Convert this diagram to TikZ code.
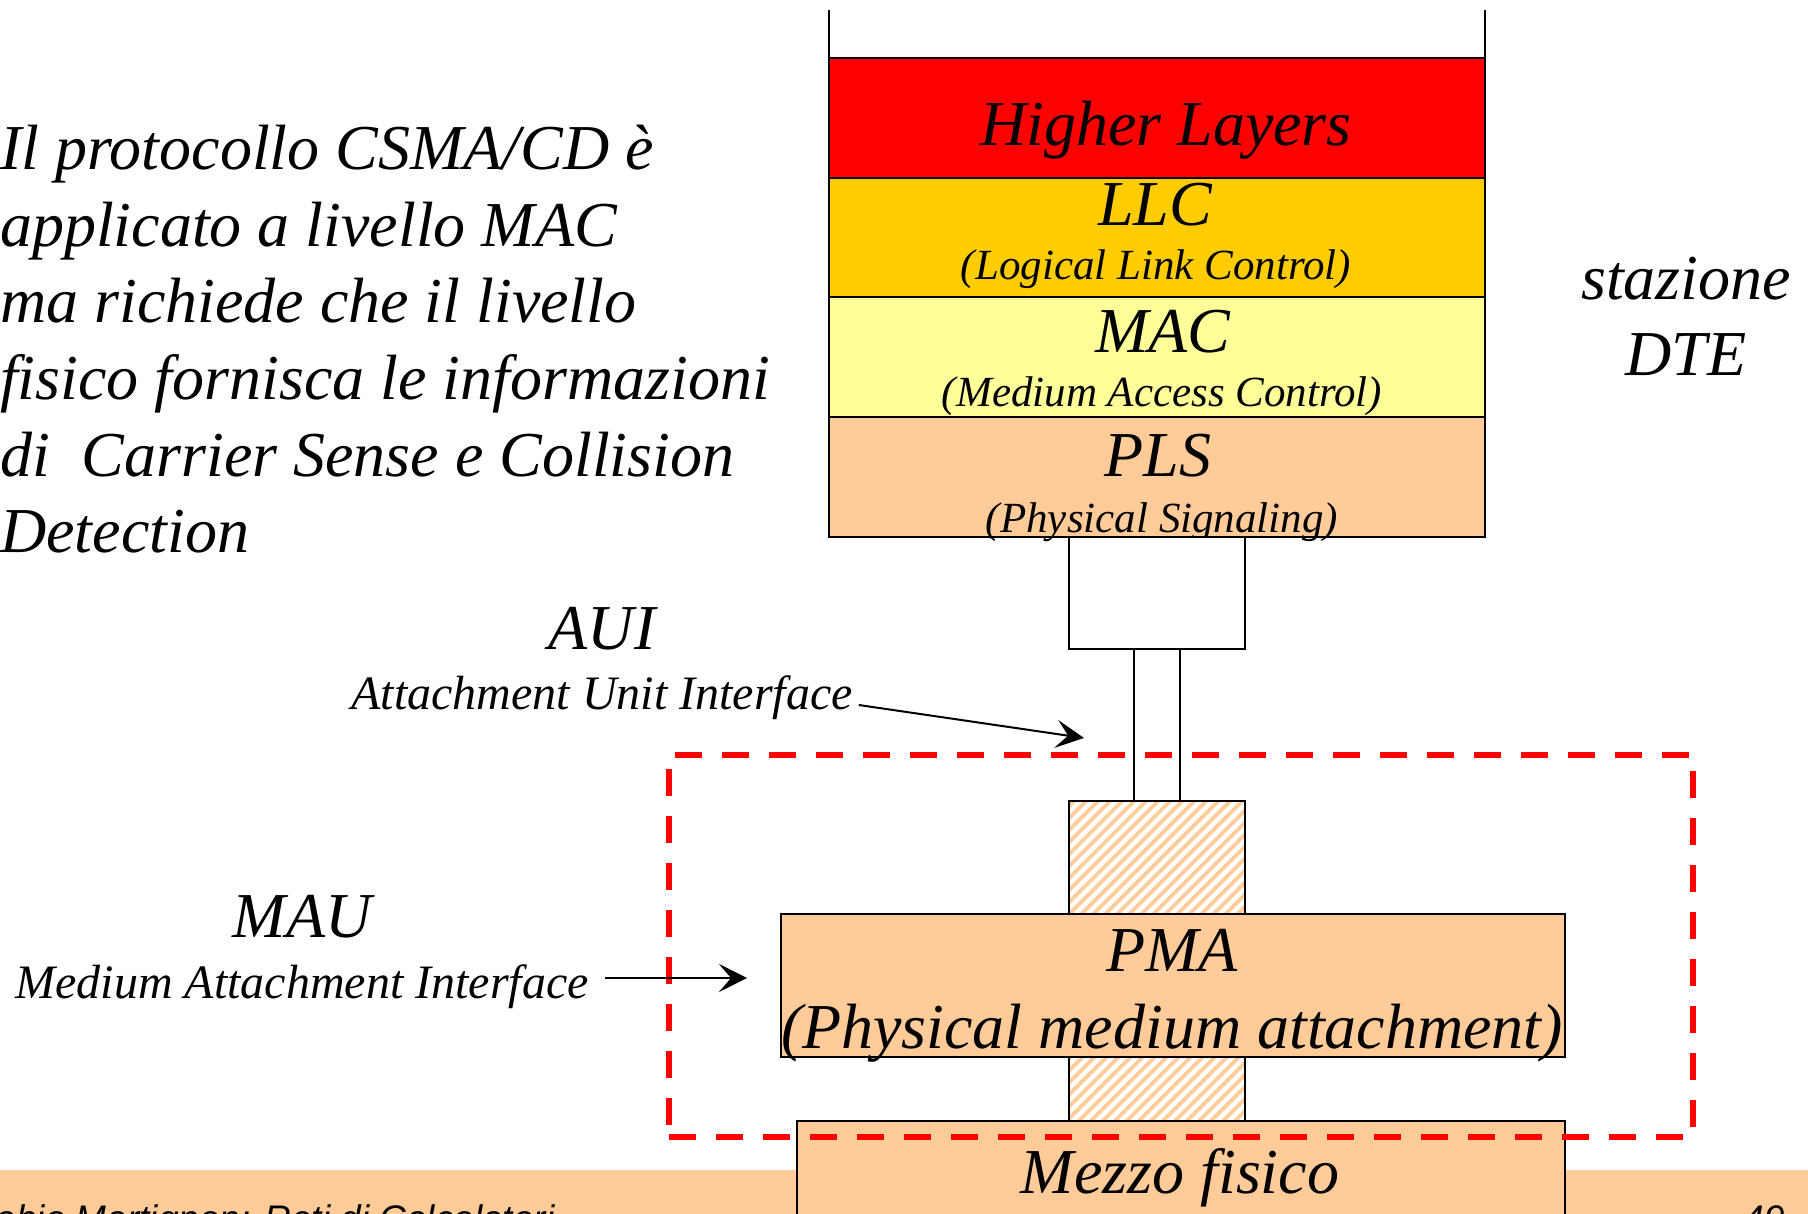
\documentclass[tikz,border=0pt]{standalone}
\usepackage{fontspec}
\setmainfont{Liberation Serif}
\newfontfamily\footfont{Liberation Sans}
\usetikzlibrary{arrows.meta,patterns.meta}
\definecolor{peach}{HTML}{FFCC99}
\definecolor{gold}{HTML}{FFCC00}
\definecolor{paleyellow}{HTML}{FFFF99}
\begin{document}
\begin{tikzpicture}[x=1pt,y=-1pt,
  layer/.style={draw=black, line width=2pt, rectangle, inner sep=0pt, outer sep=0pt, anchor=north west},
  hatch/.style={layer, pattern={Lines[angle=45,distance=8.5pt,line width=3.8pt]}, pattern color=peach},
  big/.style={font=\fontsize{64}{76}\selectfont\itshape, inner sep=0pt, anchor=base},
  sub/.style={font=\fontsize{43}{50}\selectfont\itshape, inner sep=0pt, anchor=base},
  mid/.style={font=\fontsize{48}{56}\selectfont\itshape, inner sep=0pt, anchor=base},
  para/.style={font=\fontsize{64}{76}\selectfont\itshape, inner sep=0pt, anchor=base west},
  arr/.style={-{Stealth[length=28pt,width=28pt,inset=12pt]}, line width=2pt},
  foot/.style={font=\fontsize{37}{44}\selectfont\footfont\itshape, inner sep=0pt}
]
\useasboundingbox (0,0) rectangle (1808,1214);
\begin{scope}
\clip (0,0) rectangle (1808,1214);
% footer band
\fill[peach] (0,1170) rectangle (1808,1230);
\node[foot, anchor=base west] (footl) at (-27,1231) {Fabio Martignon: Reti di Calcolatori};
\node[foot, anchor=base east] (footr) at (1785,1231) {49};

% stack
\node[layer, fill=red, minimum width=656pt, minimum height=119.9pt] (hl) at (829,57.7) {};
\node[layer, fill=gold, minimum width=656pt, minimum height=119.9pt] (llc) at (829,177.6) {};
\node[layer, fill=paleyellow, minimum width=656pt, minimum height=119.9pt] (mac) at (829,297.5) {};
\node[layer, fill=peach, minimum width=656pt, minimum height=119.9pt] (pls) at (829,417.4) {};
\coordinate (tl) at (829,10);
\coordinate (tr) at (1485,10);
\draw[line width=2pt] (hl.north west) -- (tl);
\draw[line width=2pt] (hl.north east) -- (tr);

\node[big] (thl) at (1166,146) {Higher Layers};
\node[big] (tllc) at (1155,226) {LLC};
\node[sub] (tllc2) at (1156,280) {(Logical Link Control)};
\node[big] (tmac) at (1163,353) {MAC};
\node[sub] (tmac2) at (1162,407) {(Medium Access Control)};
\node[big] (tpls) at (1158,476) {PLS};
\node[sub] (tpls2) at (1162,532) {(Physical Signaling)};

% AUI box and cable
\node[layer, fill=white, minimum width=176pt, minimum height=111.7pt] (sbox) at (1069,537.3) {};
\node[hatch, minimum width=176pt, minimum height=113pt] (hat1) at (1069,801) {};
\draw[line width=2pt] ([xshift=-23pt]sbox.south) -- ([xshift=-23pt]hat1.north);
\draw[line width=2pt] ([xshift=23pt]sbox.south) -- ([xshift=23pt]hat1.north);

% PMA
\node[layer, fill=peach, minimum width=784pt, minimum height=143pt] (pma) at (781,914) {};
\node[big] (tpma) at (1172,971) {PMA};
\node[big] (tpma2) at (1172,1048) {(Physical medium attachment)};
\node[hatch, minimum width=176pt, minimum height=64pt] (hat2) at (1069,1057) {};

% medium
\node[layer, fill=peach, minimum width=768pt, minimum height=130pt] (mezzo) at (797,1121) {};
\node[big] (tmezzo) at (1180,1193) {Mezzo fisico};

% dashed MAU frame
\node[draw=red, line width=6.5pt, dash pattern=on 27pt off 20pt, rectangle, inner sep=0pt, outer sep=0pt, anchor=north west,
      minimum width=1024pt, minimum height=382pt] (frame) at (669,755) {};

% left paragraph
\node[para] (p1) at (0,170) {Il protocollo CSMA/CD è};
\node[para] (p2) at (0,246.5) {applicato a livello MAC};
\node[para] (p3) at (0,323) {ma richiede che il livello};
\node[para] (p4) at (0,399.5) {fisico fornisca le informazioni};
\node[para] (p5) at (0,476) {di \ Carrier Sense e Collision};
\node[para] (p6) at (0,552.6) {Detection};

% station label
\node[big] (st1) at (1686,300) {stazione};
\node[big] (st2) at (1686,376) {DTE};

% AUI label
\node[big] (aui) at (602,649) {AUI};
\node[mid] (auitxt) at (602,709) {Attachment Unit Interface};
\coordinate (auitip) at (1084,738);
\draw[arr] ([xshift=6pt,yshift=4pt]auitxt.base east) -- (auitip);

% MAU label
\node[big] (mau) at (302,937) {MAU};
\node[mid] (mautxt) at (302,998) {Medium Attachment Interface};
\coordinate (mautip) at (747,978);
\draw[arr] ([xshift=16pt,yshift=20pt]mautxt.base east) -- (mautip);
\end{scope}
\end{tikzpicture}
\end{document}
